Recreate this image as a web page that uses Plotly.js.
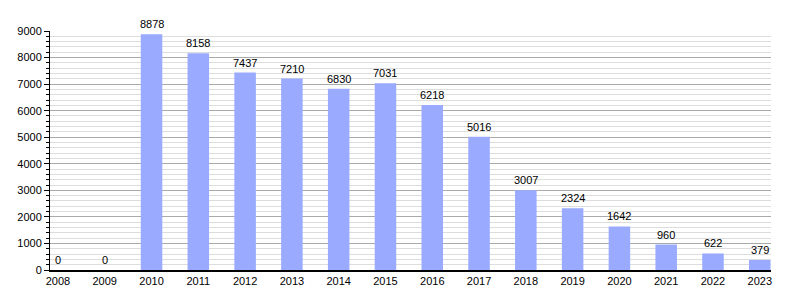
<!DOCTYPE html>
<html><head><meta charset="utf-8">
<script src="https://cdn.plot.ly/plotly-3.0.1.min.js"></script>
<style>body{margin:0;background:#fff}#c{width:800px;height:300px}</style>
</head><body><div id="c"></div>
<script>
const years = ['2008','2009','2010','2011','2012','2013','2014','2015','2016','2017','2018','2019','2020','2021','2022','2023'];
const values = [0,0,8878,8158,7437,7210,6830,7031,6218,5016,3007,2324,1642,960,622,379];
const barColor = '#99aaff';
const fontFam = 'Liberation Sans, Arial, sans-serif';
const labels = years.map((yr, i) => ({
  xref: 'x', yref: 'y', x: i, y: values[i], text: String(values[i]), showarrow: false,
  xanchor: 'center', yanchor: 'bottom', yshift: 2,
  font: {family: fontFam, size: 11, color: '#000'}
}));
Plotly.newPlot('c', [{
  type: 'bar', x: years, y: values,
  marker: {color: barColor},
  width: 0.46,
  hoverinfo: 'skip'
}], {
  width: 800, height: 300,
  margin: {l: 50, r: 29, t: 31, b: 30},
  paper_bgcolor: '#fff', plot_bgcolor: '#fff',
  showlegend: false,
  font: {family: fontFam, size: 11, color: '#000'},
  annotations: labels,
  xaxis: {type: 'category', range: [-0.17, 15.24], showline: true, linecolor: '#000', linewidth: 1.5,
    ticks: '', showgrid: false, zeroline: false, tickfont: {size: 11}},
  yaxis: {range: [0, 9000], dtick: 1000, showline: true, linecolor: '#000', linewidth: 1,
    ticks: 'outside', ticklen: 5, tickcolor: '#000', showgrid: true, gridcolor: '#aaa', gridwidth: 1,
    zeroline: false, tickfont: {size: 11},
    minor: {dtick: 200, showgrid: true, gridcolor: '#ddd', ticks: 'outside', ticklen: 3, tickcolor: '#000'}},
  bargap: 0.54
}, {displayModeBar: false, staticPlot: true});
</script></body></html>
